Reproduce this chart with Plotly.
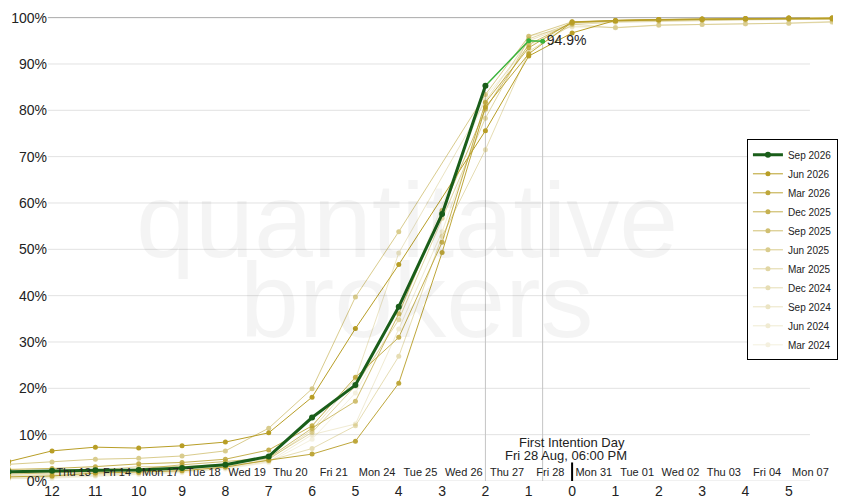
import plotly.graph_objects as go

# ---------------- data ----------------
X_DAYS = list(range(-13, 7))  # trading-day offset relative to first intention day
DAY_TICKS = list(range(-12, 6))
DATE_LABELS = ["Thu 13", "Fri 14", "Mon 17", "Tue 18", "Wed 19", "Thu 20", "Fri 21",
               "Mon 24", "Tue 25", "Wed 26", "Thu 27", "Fri 28", "Mon 31", "Tue 01",
               "Wed 02", "Thu 03", "Fri 04", "Mon 07"]

SERIES_NAMES = ["Jun 2026", "Mar 2026", "Dec 2025", "Sep 2025", "Jun 2025",
                "Mar 2025", "Dec 2024", "Sep 2024", "Jun 2024", "Mar 2024"]
JUN_2026 = [4.2, 6.5, 7.3, 7.1, 7.6, 8.4, 10.4, 18.1, 32.9, 46.7, None, 75.6, 91.7, 96.7, 99.4, 99.6, 99.7, 99.8, 99.9, 99.9]
MAR_2026 = [0.9, 1.1, 1.7, 1.9, 2.2, 3.0, 4.5, 5.8, 8.6, 21.1, 49.3, 80.7, 92.2, 99.0, 99.4, 99.6, 99.7, 99.8, 99.9, 99.9]
DEC_2025 = [2.5, 2.7, 3.1, 3.7, 4.0, 4.7, 6.7, 11.9, 22.4, 31.0, 51.5, 81.7, 93.5, 99.1, 99.4, 99.6, 99.7, 99.8, 99.9, 99.9]
SEP_2025 = [1.5, 1.7, 2.0, 2.6, 3.5, 4.2, 5.0, 11.4, 17.2, 36.1, 58.4, 80.3, 94.2, 98.9, 99.3, 99.5, 99.6, 99.7, 99.8, 99.8]
JUN_2025 = [3.6, 4.1, 4.7, 4.9, 5.4, 6.5, 11.4, 19.9, 39.7, 53.8, None, 83.4, 96.0, 99.1, 99.3, 99.5, 99.6, 99.7, 99.8, 99.8]
MAR_2025 = [1.8, 2.0, 2.3, 3.1, 3.1, 3.6, 4.8, 10.5, 20.5, 34.8, 56.7, 78.3, 95.4, 98.8, 99.2, 99.4, 99.5, 99.6, 99.7, 99.7]
DEC_2024 = [1.2, 1.4, 1.8, 2.3, 2.6, 3.3, 4.4, 7.0, 11.9, 26.9, 52.8, 71.5, 92.7, 98.5, 99.0, 99.2, 99.4, 99.5, 99.6, 99.6]
SEP_2024 = [0.8, 1.0, 1.4, 1.8, 2.4, 3.0, 4.6, 11.0, 22.0, 49.2, None, 82.0, 95.0, 98.6, 97.8, 98.4, 98.5, 98.7, 98.8, 99.0]
JUN_2024 = [0.6, 0.8, 1.2, 1.6, 2.0, 2.8, 4.2, 10.0, 12.3, 32.8, 53.8, 80.0, 96.0, 98.0, 97.9, 98.4, 98.5, 98.7, 98.8, 99.2]
MAR_2024 = [0.5, 0.6, 1.0, 1.4, 1.8, 2.6, 4.0, 9.0, 19.0, 36.0, None, 83.0, 94.0, 98.2, 97.8, 98.3, 98.5, 98.6, 98.8, 99.1]
HISTORY = [JUN_2026, MAR_2026, DEC_2025, SEP_2025, JUN_2025,
           MAR_2025, DEC_2024, SEP_2024, JUN_2024, MAR_2024]

CURRENT_NAME = "Sep 2026"
SEP_2026_X = list(range(-13, -1))
SEP_2026 = [2.0, 2.2, 2.3, 2.4, 2.8, 3.5, 5.3, 13.7, 20.7, 37.6, 57.6, 85.3]
LIVE_X = [-2, -1, -0.68]
LIVE = [85.3, 95.0, 94.9]

Y_TICKS = list(range(0, 101, 10))
FID_TITLE = "First Intention Day"
FID_TIME = "Fri 28 Aug, 06:00 PM"

# ---------------- style ----------------
FONT = "Liberation Sans"
GOLD = "rgb(184,158,38)"
OPACITY = [1.0, 0.9, 0.8, 0.65, 0.52, 0.42, 0.34, 0.27, 0.2, 0.14]
DARK_GREEN = "rgb(26,94,26)"
LIVE_GREEN = "rgb(58,178,58)"

fig = go.Figure()

# historical contracts, faintest drawn first
for name, vals, op in reversed(list(zip(SERIES_NAMES, HISTORY, OPACITY))):
    fig.add_trace(go.Scatter(
        x=X_DAYS, y=vals, name=name, mode="lines+markers", connectgaps=True,
        line=dict(color=GOLD, width=1), marker=dict(color=GOLD, size=5),
        opacity=op, legendrank=2 + SERIES_NAMES.index(name),
    ))

fig.add_trace(go.Scatter(
    x=LIVE_X, y=LIVE, mode="lines+markers+text", showlegend=False,
    line=dict(color=LIVE_GREEN, width=1.5), marker=dict(color=LIVE_GREEN, size=5),
    text=["", "", f"{LIVE[-1]:.1f}%"], textposition="middle right",
    textfont=dict(family=FONT, size=14, color="#222"),
))
fig.add_trace(go.Scatter(
    x=SEP_2026_X, y=SEP_2026, name=CURRENT_NAME, mode="lines+markers",
    line=dict(color=DARK_GREEN, width=3), marker=dict(color=DARK_GREEN, size=6),
    legendrank=1,
))
# carrier for the date axis
fig.add_trace(go.Scatter(x=[], y=[], xaxis="x2", showlegend=False, hoverinfo="skip"))

x_range = [-12.97, 6.02]
grid_shapes = []
for v in Y_TICKS:
    grid_shapes.append(dict(
        type="line", xref="paper", yref="y", x0=0.046, x1=0.972, y0=v, y1=v,
        line=dict(color="#aaaaaa" if v == 100 else "#e2e2e2", width=1), layer="below",
    ))
# vertical markers at last full day and current time
grid_shapes.append(dict(type="line", xref="x", yref="y", x0=SEP_2026_X[-1], x1=SEP_2026_X[-1],
                        y0=0, y1=SEP_2026[-1], line=dict(color="#c4c4c4", width=1), layer="below"))
grid_shapes.append(dict(type="line", xref="x", yref="y", x0=LIVE_X[-1], x1=LIVE_X[-1],
                        y0=0, y1=LIVE[-1], line=dict(color="#c4c4c4", width=1), layer="below"))
# first intention day tick
grid_shapes.append(dict(type="line", xref="x", yref="y", x0=0, x1=0, y0=0, y1=4.0,
                        line=dict(color="black", width=2), layer="above"))

fig.update_layout(
    width=842, height=492,
    margin=dict(l=2, r=17, t=5, b=19),
    paper_bgcolor="white", plot_bgcolor="white",
    font=dict(family=FONT, color="#222"),
    showlegend=True,
    legend=dict(x=1.006, xanchor="right", y=0.494, yanchor="middle",
                bordercolor="black", borderwidth=1, bgcolor="white",
                font=dict(family=FONT, size=10, color="#222"),
                itemwidth=30, tracegroupgap=0),
    xaxis=dict(range=x_range, tickvals=DAY_TICKS, ticktext=[str(abs(d)) for d in DAY_TICKS],
               showgrid=False, zeroline=False, showline=False, ticks="",
               tickfont=dict(family=FONT, size=14, color="#222")),
    xaxis2=dict(range=x_range, matches="x", overlaying="x", side="top", anchor="free",
                position=0.0065, tickvals=[d + 0.5 for d in DAY_TICKS], ticktext=DATE_LABELS,
                showgrid=False, zeroline=False, showline=False, ticks="",
                tickfont=dict(family=FONT, size=11, color="#222")),
    yaxis=dict(range=[0, 101], tickvals=Y_TICKS, ticktext=[f"{v}%" for v in Y_TICKS],
               anchor="free", position=0.045, showgrid=False, zeroline=False,
               showline=False, ticks="",
               tickfont=dict(family=FONT, size=14, color="#222")),
    shapes=grid_shapes,
    annotations=[
        dict(text="quantitative", xref="paper", yref="paper", x=0.482, y=0.558,
             showarrow=False, font=dict(family=FONT, size=106, color="rgba(0,0,0,0.045)")),
        dict(text="brokers", xref="paper", yref="paper", x=0.494, y=0.387,
             showarrow=False, font=dict(family=FONT, size=106, color="rgba(0,0,0,0.045)")),
        dict(text=FID_TITLE, xref="x", yref="y", x=0, y=8.4, yanchor="middle",
             showarrow=False, font=dict(family=FONT, size=13, color="#222")),
        dict(text=FID_TIME, xref="x", yref="y", x=0, y=5.6, yanchor="middle", xshift=-6,
             showarrow=False, font=dict(family=FONT, size=13, color="#222")),
    ],
)

fig.write_html("out.html")
